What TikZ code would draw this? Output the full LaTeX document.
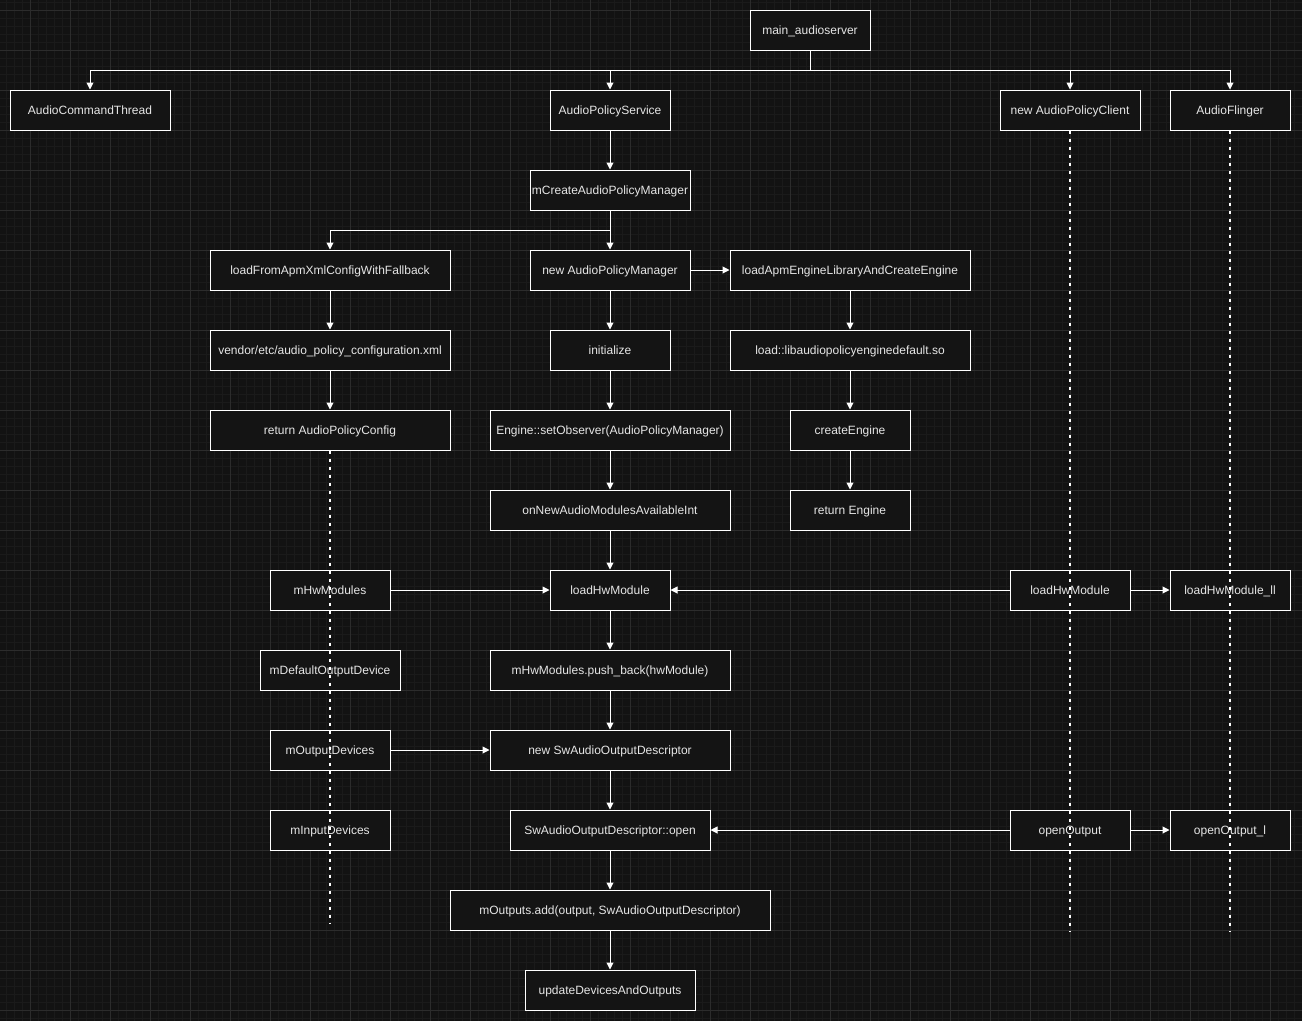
\documentclass[tikz,border=0pt]{standalone}
\usepackage{fontspec}
\setmainfont{Liberation Sans}
\usetikzlibrary{arrows.meta}
\definecolor{bg}{HTML}{121212}
\definecolor{boxbg}{HTML}{141414}
\definecolor{minorgrid}{HTML}{1A1A1A}
\definecolor{majorgrid}{HTML}{2C2C2C}
\definecolor{txt}{HTML}{E6E6E6}
\begin{document}
\begin{tikzpicture}[x=1pt,y=-1pt,
  box/.style={draw=white, fill=boxbg, line width=1pt, minimum height=40pt, inner sep=0pt,
    text height=9pt, text depth=1pt,
    font=\fontsize{12}{14}\selectfont, text=txt},
  wire/.style={draw=white, line width=1pt},
  arr/.style={draw=white, line width=1pt, -{Triangle[length=7pt,width=7pt]}},
  dotline/.style={draw=white, line width=2pt, dash pattern=on 3pt off 5pt}]
\fill[bg] (0,0) rectangle (1302,1021);
\useasboundingbox (0,0) rectangle (1302,1021);
\foreach \x in {6,14,...,1302} \draw[minorgrid, line width=0.6pt] (\x,0) -- (\x,1021);
\foreach \y in {2,10,...,1021} \draw[minorgrid, line width=0.6pt] (0,\y) -- (1302,\y);
\foreach \x in {30,70,...,1302} \draw[majorgrid, line width=0.8pt] (\x,0) -- (\x,1021);
\foreach \y in {10,50,...,1021} \draw[majorgrid, line width=0.8pt] (0,\y) -- (1302,\y);

% nodes
\node[box, minimum width=120pt] (mas) at (810,30) {main\_audioserver};
\node[box, minimum width=160pt] (act) at (90,110) {AudioCommandThread};
\node[box, minimum width=120pt] (aps) at (610,110) {AudioPolicyService};
\node[box, minimum width=140pt] (napc) at (1070,110) {new AudioPolicyClient};
\node[box, minimum width=120pt] (af) at (1230,110) {AudioFlinger};
\node[box, minimum width=160pt] (mcapm) at (610,190) {mCreateAudioPolicyManager};
\node[box, minimum width=240pt] (lfa) at (330,270) {loadFromApmXmlConfigWithFallback};
\node[box, minimum width=160pt] (napm) at (610,270) {new AudioPolicyManager};
\node[box, minimum width=240pt] (lae) at (850,270) {loadApmEngineLibraryAndCreateEngine};
\node[box, minimum width=240pt] (vend) at (330,350) {vendor/etc/audio\_policy\_configuration.xml};
\node[box, minimum width=120pt] (init) at (610,350) {initialize};
\node[box, minimum width=240pt] (lib) at (850,350) {load::libaudiopolicyenginedefault.so};
\node[box, minimum width=240pt] (rapc) at (330,430) {return AudioPolicyConfig};
\node[box, minimum width=240pt] (seto) at (610,430) {Engine::setObserver(AudioPolicyManager)};
\node[box, minimum width=120pt] (ce) at (850,430) {createEngine};
\node[box, minimum width=240pt] (onam) at (610,510) {onNewAudioModulesAvailableInt};
\node[box, minimum width=120pt] (re) at (850,510) {return Engine};
\node[box, minimum width=120pt] (mhw) at (330,590) {mHwModules};
\node[box, minimum width=120pt] (lhm) at (610,590) {loadHwModule};
\node[box, minimum width=120pt] (lhr) at (1070,590) {loadHwModule};
\node[box, minimum width=120pt] (lhl) at (1230,590) {loadHwModule\_ll};
\node[box, minimum width=140pt] (mdod) at (330,670) {mDefaultOutputDevice};
\node[box, minimum width=240pt] (pb) at (610,670) {mHwModules.push\_back(hwModule)};
\node[box, minimum width=120pt] (mod) at (330,750) {mOutputDevices};
\node[box, minimum width=240pt] (nsw) at (610,750) {new SwAudioOutputDescriptor};
\node[box, minimum width=120pt] (mid) at (330,830) {mInputDevices};
\node[box, minimum width=200pt] (swo) at (610,830) {SwAudioOutputDescriptor::open};
\node[box, minimum width=120pt] (oo) at (1070,830) {openOutput};
\node[box, minimum width=120pt] (ool) at (1230,830) {openOutput\_l};
\node[box, minimum width=320pt] (madd) at (610,910) {mOutputs.add(output, SwAudioOutputDescriptor)};
\node[box, minimum width=170pt] (upd) at (610,990) {updateDevicesAndOutputs};

% connectors
\coordinate (hub) at (810,70);
\draw[wire] (mas.south) -- (hub);
\draw[arr] (hub) -| (act.north);
\draw[arr] (hub) -| (aps.north);
\draw[arr] (hub) -| (napc.north);
\draw[arr] (hub) -| (af.north);
\draw[arr] (aps) -- (mcapm);
\coordinate (split) at (610,230);
\draw[arr] (mcapm) -- (napm);
\draw[arr] (split) -| (lfa.north);
\draw[arr] (napm) -- (lae);
\draw[arr] (lfa) -- (vend);
\draw[arr] (vend) -- (rapc);
\draw[arr] (napm) -- (init);
\draw[arr] (init) -- (seto);
\draw[arr] (seto) -- (onam);
\draw[arr] (onam) -- (lhm);
\draw[arr] (lhm) -- (pb);
\draw[arr] (pb) -- (nsw);
\draw[arr] (nsw) -- (swo);
\draw[arr] (swo) -- (madd);
\draw[arr] (madd) -- (upd);
\draw[arr] (lae) -- (lib);
\draw[arr] (lib) -- (ce);
\draw[arr] (ce) -- (re);
\draw[arr] (mhw) -- (lhm);
\draw[arr] (lhr) -- (lhm);
\draw[arr] (lhr) -- (lhl);
\draw[arr] (mod) -- (nsw);
\draw[arr] (oo) -- (swo);
\draw[arr] (oo) -- (ool);

% lifelines
\coordinate (e1) at (330,924);
\coordinate (e2) at (1070,932);
\coordinate (e3) at (1230,932);
\draw[dotline] (rapc.south) -- (e1);
\draw[dotline] (napc.south) -- (e2);
\draw[dotline] (af.south) -- (e3);
\end{tikzpicture}
\end{document}
